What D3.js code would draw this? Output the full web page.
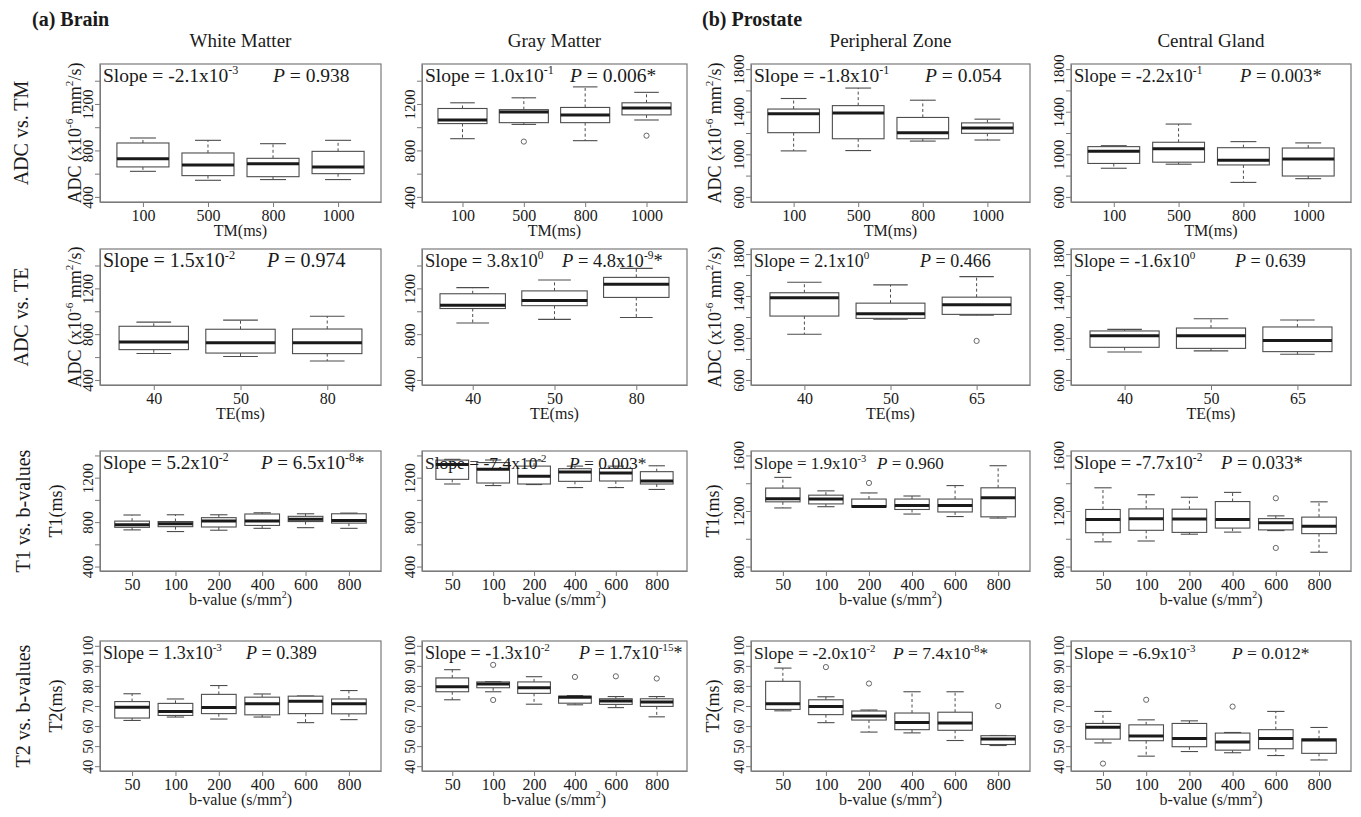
<!DOCTYPE html>
<html>
<head>
<meta charset="utf-8">
<script src="https://cdn.jsdelivr.net/npm/d3@7"></script>
<style>
  body { margin: 0; background: #fff; }
  svg { display: block; }
  text { font-family: "Liberation Serif", "Times New Roman", serif; fill: #1a1a1a; }
</style>
</head>
<body>
<svg id="chart" width="1361" height="817"></svg>
<script>
// ---------- categories ----------
const tissues = ["White Matter", "Gray Matter", "Peripheral Zone", "Central Gland"];
const tmLevels = ["100", "500", "800", "1000"];
const teBrainLevels = ["40", "50", "80"];
const teProstateLevels = ["40", "50", "65"];
const bLevels = ["50", "100", "200", "400", "600", "800"];

// ---------- box statistics: [lower whisker, Q1, median, Q3, upper whisker] ----------
// ADC vs. TM (x10^-6 mm^2/s)
const wmTM = [[620, 658, 729, 864, 907], [543, 583, 675, 778, 887], [549, 574, 686, 732, 858], [549, 600, 658, 792, 887]];
const gmTM = [[901, 1031, 1062, 1161, 1210], [1024, 1039, 1131, 1151, 1253], [884, 1039, 1106, 1170, 1347], [1062, 1106, 1166, 1210, 1300]];
const pzTM = [[1032, 1203, 1381, 1425, 1524], [1035, 1146, 1387, 1457, 1622], [1124, 1146, 1203, 1346, 1508], [1134, 1197, 1248, 1295, 1330]];
const cgTM = [[869, 914, 1028, 1072, 1081], [907, 926, 1053, 1113, 1284], [736, 900, 945, 1062, 1119], [771, 796, 957, 1059, 1107]];
// ADC vs. TE
const wmTE = [[631, 665, 731, 869, 905], [605, 635, 725, 843, 923], [566, 630, 725, 845, 957]];
const gmTE = [[897, 1024, 1052, 1153, 1207], [929, 1049, 1095, 1178, 1273], [946, 1121, 1236, 1296, 1375]];
const pzTE = [[1036, 1209, 1383, 1431, 1531], [1178, 1187, 1232, 1332, 1506], [1216, 1225, 1317, 1389, 1585]];
const cgTE = [[867, 911, 1022, 1067, 1082], [877, 901, 1022, 1095, 1184], [845, 870, 977, 1105, 1172]];
// T1 (ms) vs. b-value
const wmT1 = [[730, 753, 776, 809, 864], [715, 759, 785, 805, 866], [727, 756, 809, 840, 866], [744, 770, 809, 873, 884], [750, 805, 826, 852, 875], [744, 791, 814, 875, 881]];
const gmT1 = [[1143, 1185, 1318, 1358, 1365], [1129, 1152, 1275, 1336, 1359], [1138, 1143, 1213, 1304, 1351], [1111, 1167, 1251, 1281, 1304], [1111, 1170, 1243, 1283, 1304], [1094, 1143, 1170, 1254, 1307]];
const pzT1 = [[1222, 1266, 1288, 1365, 1442], [1231, 1251, 1286, 1314, 1345], [1229, 1229, 1233, 1286, 1330], [1178, 1211, 1240, 1286, 1308], [1160, 1193, 1240, 1286, 1383], [1149, 1158, 1295, 1367, 1526]];
const cgT1 = [[978, 1044, 1138, 1211, 1367], [984, 1061, 1145, 1215, 1317], [1033, 1046, 1143, 1213, 1299], [1048, 1077, 1138, 1268, 1334], [1059, 1064, 1116, 1145, 1165], [903, 1037, 1090, 1156, 1266]];
// T2 (ms) vs. b-value
const wmT2 = [[62.8, 64.0, 69.4, 72.2, 76.1], [64.5, 65.3, 67.2, 71.3, 73.5], [63.5, 66.2, 69.2, 75.8, 80.2], [64.5, 65.6, 71.1, 74.4, 76.0], [61.7, 66.2, 72.4, 74.9, 75.0], [63.2, 66.1, 71.1, 73.5, 77.7]];
const gmT2 = [[73.1, 77.1, 79.6, 84.0, 88.1], [77.1, 79.1, 81.0, 82.0, 82.2], [70.9, 76.3, 79.1, 82.0, 84.6], [70.6, 71.4, 74.3, 74.9, 75.2], [69.2, 70.8, 72.5, 73.6, 74.7], [64.6, 69.8, 72.0, 73.6, 74.7]];
const pzT2 = [[67.6, 68.3, 71.1, 82.3, 88.9], [61.7, 65.7, 69.8, 73.1, 74.6], [57.0, 63.0, 65.0, 67.5, 68.0], [56.6, 58.2, 61.8, 66.5, 77.1], [52.8, 57.9, 61.5, 66.9, 77.1], [50.3, 50.8, 53.6, 55.2, 55.3]];
const cgT2 = [[51.6, 53.5, 59.4, 61.3, 67.3], [45.0, 52.7, 55.0, 60.6, 63.1], [47.3, 49.7, 53.8, 61.3, 62.6], [46.7, 48.0, 52.0, 56.5, 56.8], [45.3, 48.7, 53.8, 58.2, 67.3], [43.1, 46.4, 53.0, 53.6, 59.3]];

// ---------- outliers: [group index, value] ----------
const gmTMOut = [[1, 876], [3, 927]];
const pzTEOut = [[2, 972]];
const pzT1Out = [[2, 1402]];
const cgT1Out = [[4, 1292], [4, 934]];
const gmT2Out = [[1, 90.5], [1, 73.0], [3, 84.5], [4, 84.8], [5, 83.7]];
const pzT2Out = [[1, 89.4], [2, 81.2], [5, 70.0]];
const cgT2Out = [[0, 41.3], [1, 73.1], [3, 69.7]];

// ---------- regression annotations: [slope mantissa, slope exponent, P text, P exponent, significant] ----------
const statsTM = [["-2.1", "-3", "0.938", null, false], ["1.0", "-1", "0.006", null, true], ["-1.8", "-1", "0.054", null, false], ["-2.2", "-1", "0.003", null, true]];
const statsTE = [["1.5", "-2", "0.974", null, false], ["3.8", "0", "4.8", "-9", true], ["2.1", "0", "0.466", null, false], ["-1.6", "0", "0.639", null, false]];
const statsT1 = [["5.2", "-2", "6.5", "-8", true], ["-7.4", "-2", "0.003", null, true], ["1.9", "-3", "0.960", null, false], ["-7.7", "-2", "0.033", null, true]];
const statsT2 = [["1.3", "-3", "0.389", null, false], ["-1.3", "-2", "1.7", "-15", true], ["-2.0", "-2", "7.4", "-8", true], ["-6.9", "-3", "0.012", null, true]];

// ---------- axis ranges and tick labels ----------
const adcBrainLim = [400, 1500], adcBrainTicks = [400, 600, 800, 1000, 1200, 1400], adcBrainLabels = [400, 800, 1200];
const adcProstLim = [600, 1800], adcProstTicks = [600, 800, 1000, 1200, 1400, 1600, 1800], adcProstLabels = [600, 1000, 1400, 1800];
const t1BrainLim = [400, 1400], t1BrainTicks = [400, 600, 800, 1000, 1200, 1400], t1BrainLabels = [400, 800, 1200];
const t1ProstLim = [800, 1600], t1ProstTicks = [800, 1000, 1200, 1400, 1600], t1ProstLabels = [800, 1200, 1600];
const t2Lim = [40, 100], t2Ticks = [40, 50, 60, 70, 80, 90, 100], t2Labels = [40, 50, 60, 70, 80, 90, 100];

// ---------- page layout ----------
const svg = d3.select("#chart");
const colX = [[100, 381], [422, 687], [751, 1030], [1071, 1351]];
const rowY = [[64, 202], [249, 385], [451, 571], [641, 771]];
const pX = [[273, 570, 925, 1240], [267, 562, 920, 1235], [261, 569, 877, 1221], [246, 579, 893, 1232]];
const statFont = [[19.5, 19.5, 19.5, 18.5], [20, 18.5, 18, 18], [19, 17.5, 17, 18.5], [18, 18, 17.5, 17.5]];
const yTickFont = [15, 15, 15, 14];

const rows = [
  { boxes: [wmTM, gmTM, pzTM, cgTM], outs: [[], gmTMOut, [], []], levels: [tmLevels, tmLevels, tmLevels, tmLevels],
    stats: statsTM, xTitle: [{ t: "TM(ms)" }], rowLabel: "ADC vs. TM",
    yAxis: [[adcBrainLim, adcBrainTicks, adcBrainLabels], [adcBrainLim, adcBrainTicks, adcBrainLabels], [adcProstLim, adcProstTicks, adcProstLabels], [adcProstLim, adcProstTicks, adcProstLabels]],
    yTitle: [{ t: "ADC (x10" }, { t: "-6", sup: true }, { t: " mm" }, { t: "2", sup: true }, { t: "/s)" }], yTitleX: [81, 721] },
  { boxes: [wmTE, gmTE, pzTE, cgTE], outs: [[], [], pzTEOut, []], levels: [teBrainLevels, teBrainLevels, teProstateLevels, teProstateLevels],
    stats: statsTE, xTitle: [{ t: "TE(ms)" }], rowLabel: "ADC vs. TE",
    yAxis: [[adcBrainLim, adcBrainTicks, adcBrainLabels], [adcBrainLim, adcBrainTicks, adcBrainLabels], [adcProstLim, adcProstTicks, adcProstLabels], [adcProstLim, adcProstTicks, adcProstLabels]],
    yTitle: [{ t: "ADC (x10" }, { t: "-6", sup: true }, { t: " mm" }, { t: "2", sup: true }, { t: "/s)" }], yTitleX: [81, 721] },
  { boxes: [wmT1, gmT1, pzT1, cgT1], outs: [[], [], pzT1Out, cgT1Out], levels: [bLevels, bLevels, bLevels, bLevels],
    stats: statsT1, xTitle: [{ t: "b-value (s/mm" }, { t: "2", sup: true }, { t: ")" }], rowLabel: "T1 vs. b-values",
    yAxis: [[t1BrainLim, t1BrainTicks, t1BrainLabels], [t1BrainLim, t1BrainTicks, t1BrainLabels], [t1ProstLim, t1ProstTicks, t1ProstLabels], [t1ProstLim, t1ProstTicks, t1ProstLabels]],
    yTitle: [{ t: "T1(ms)" }], yTitleX: [62, 719] },
  { boxes: [wmT2, gmT2, pzT2, cgT2], outs: [[], gmT2Out, pzT2Out, cgT2Out], levels: [bLevels, bLevels, bLevels, bLevels],
    stats: statsT2, xTitle: [{ t: "b-value (s/mm" }, { t: "2", sup: true }, { t: ")" }], rowLabel: "T2 vs. b-values",
    yAxis: [[t2Lim, t2Ticks, t2Labels], [t2Lim, t2Ticks, t2Labels], [t2Lim, t2Ticks, t2Labels], [t2Lim, t2Ticks, t2Labels]],
    yTitle: [{ t: "T2(ms)" }], yTitleX: [62, 719] }
];

// text with superscripts / italics, built from tspans
function addRich(sel, parts, fs) {
  let shift = 0;
  parts.forEach(p => {
    const ts = sel.append("tspan").text(p.t);
    const target = p.sup ? -fs * 0.42 : 0;
    if (target !== shift) { ts.attr("dy", target - shift); shift = target; }
    if (p.sup) ts.attr("font-size", fs * 0.62);
    if (p.it) ts.attr("font-style", "italic");
  });
  return sel;
}

const BOX = "#4d4d4d", FRAME = "#7a7a7a";

function drawPanel(r, c) {
  const row = rows[r];
  const [x0, x1] = colX[c], [y0, y1] = rowY[r];
  const levels = row.levels[c], n = levels.length;
  const boxes = row.boxes[c], outs = row.outs[c];
  const [lim, ticks, labels] = row.yAxis[c];
  const pad = 0.04 * (lim[1] - lim[0]);

  const x = d3.scaleLinear().domain([0.5 - 0.04 * n, n + 0.5 + 0.04 * n]).range([x0, x1]);
  const y = d3.scaleLinear().domain([lim[0] - pad, lim[1] + pad]).range([y1, y0]);
  const g = svg.append("g");
  const half = x(1.4) - x(1), staple = x(1.2) - x(1);

  const bx = g.selectAll("g.box").data(boxes).join("g").attr("class", "box");
  // whiskers
  bx.append("line").attr("x1", (d, i) => x(i + 1)).attr("x2", (d, i) => x(i + 1))
    .attr("y1", d => y(d[3])).attr("y2", d => y(d[4]))
    .attr("stroke", BOX).attr("stroke-width", 1).attr("stroke-dasharray", "3,2.5");
  bx.append("line").attr("x1", (d, i) => x(i + 1)).attr("x2", (d, i) => x(i + 1))
    .attr("y1", d => y(d[1])).attr("y2", d => y(d[0]))
    .attr("stroke", BOX).attr("stroke-width", 1).attr("stroke-dasharray", "3,2.5");
  // staples
  bx.append("line").attr("x1", (d, i) => x(i + 1) - staple).attr("x2", (d, i) => x(i + 1) + staple)
    .attr("y1", d => y(d[4])).attr("y2", d => y(d[4])).attr("stroke", BOX).attr("stroke-width", 1.1);
  bx.append("line").attr("x1", (d, i) => x(i + 1) - staple).attr("x2", (d, i) => x(i + 1) + staple)
    .attr("y1", d => y(d[0])).attr("y2", d => y(d[0])).attr("stroke", BOX).attr("stroke-width", 1.1);
  // box
  bx.append("rect").attr("x", (d, i) => x(i + 1) - half).attr("width", 2 * half)
    .attr("y", d => y(d[3])).attr("height", d => y(d[1]) - y(d[3]))
    .attr("fill", "#fff").attr("stroke", BOX).attr("stroke-width", 1.1);
  // median
  bx.append("line").attr("x1", (d, i) => x(i + 1) - half).attr("x2", (d, i) => x(i + 1) + half)
    .attr("y1", d => y(d[2])).attr("y2", d => y(d[2])).attr("stroke", "#1a1a1a").attr("stroke-width", 3);
  // outliers
  g.selectAll("circle.out").data(outs).join("circle").attr("class", "out")
    .attr("cx", d => x(d[0] + 1)).attr("cy", d => y(d[1])).attr("r", 2.6)
    .attr("fill", "none").attr("stroke", "#666").attr("stroke-width", 1);

  // frame
  g.append("rect").attr("x", x0).attr("y", y0).attr("width", x1 - x0).attr("height", y1 - y0)
    .attr("fill", "none").attr("stroke", FRAME).attr("stroke-width", 1.2);

  // x axis
  const xa = g.append("g").attr("transform", `translate(0,${y1})`)
    .call(d3.axisBottom(x).tickValues(d3.range(1, n + 1)).tickFormat(i => levels[i - 1]).tickSize(5).tickSizeOuter(0));
  xa.select(".domain").attr("stroke", FRAME);
  xa.selectAll(".tick line").attr("stroke", FRAME);
  xa.selectAll(".tick text").attr("y", 19).attr("dy", 0).attr("font-size", 16)
    .attr("font-family", "Liberation Serif, serif").attr("fill", "#1a1a1a");

  // y axis with labels parallel to the axis
  const ya = g.append("g").attr("transform", `translate(${x0},0)`)
    .call(d3.axisLeft(y).tickValues(ticks).tickFormat(v => labels.includes(v) ? String(v) : "").tickSize(5).tickSizeOuter(0));
  ya.select(".domain").attr("stroke", FRAME);
  ya.selectAll(".tick line").attr("stroke", FRAME);
  ya.selectAll(".tick text").attr("transform", "rotate(-90)").attr("x", 0).attr("y", -7).attr("dy", 0)
    .attr("text-anchor", "middle").attr("font-size", yTickFont[r])
    .attr("font-family", "Liberation Serif, serif").attr("fill", "#1a1a1a");

  // x title
  addRich(g.append("text").attr("x", (x0 + x1) / 2).attr("y", y1 + 34).attr("text-anchor", "middle").attr("font-size", 16),
    row.xTitle, 16);

  // y title on the first column of each organ
  if (c === 0 || c === 2) {
    const tx = row.yTitleX[c === 0 ? 0 : 1];
    addRich(g.append("text").attr("transform", `translate(${tx},${(y0 + y1) / 2}) rotate(-90)`)
      .attr("text-anchor", "middle").attr("font-size", 18), row.yTitle, 18);
  }

  // regression annotation
  const [sm, se, pm, pe, sig] = row.stats[c];
  const fs = statFont[r][c];
  const ty = y0 + 18;
  addRich(g.append("text").attr("x", x0 + 3).attr("y", ty).attr("font-size", fs),
    [{ t: "Slope = " + sm + "x10" }, { t: se, sup: true }], fs);
  const pParts = [{ t: "P", it: true }, { t: " = " + pm + (pe ? "x10" : "") + (!pe && sig ? "*" : "") }];
  if (pe) { pParts.push({ t: pe, sup: true }); if (sig) pParts.push({ t: "*" }); }
  addRich(g.append("text").attr("x", pX[r][c]).attr("y", ty).attr("font-size", fs), pParts, fs);
}

for (let r = 0; r < 4; r++) for (let c = 0; c < 4; c++) drawPanel(r, c);

// row labels
rows.forEach((row, r) => {
  const [y0, y1] = rowY[r];
  svg.append("text").attr("transform", `translate(${r < 2 ? 28 : 30},${(y0 + y1) / 2}) rotate(-90)`)
    .attr("text-anchor", "middle").attr("font-size", 20).text(row.rowLabel);
});

// column titles
tissues.forEach((t, c) => {
  svg.append("text").attr("x", (colX[c][0] + colX[c][1]) / 2).attr("y", 47)
    .attr("text-anchor", "middle").attr("font-size", 19).text(t);
});

// organ headings
svg.append("text").attr("x", 32).attr("y", 26).attr("font-size", 20).attr("font-weight", "bold").text("(a) Brain");
svg.append("text").attr("x", 702).attr("y", 26).attr("font-size", 20).attr("font-weight", "bold").text("(b) Prostate");
</script>
</body>
</html>
